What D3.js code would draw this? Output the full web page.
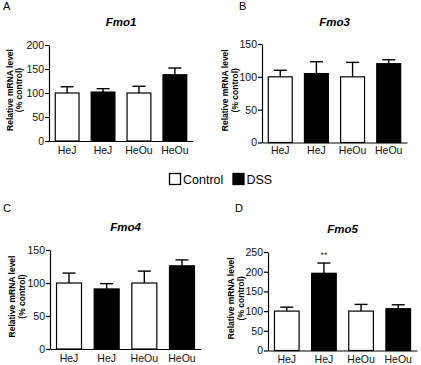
<!DOCTYPE html>
<html>
<head>
<meta charset="utf-8">
<script src="https://cdn.jsdelivr.net/npm/d3@7"></script>
<style>
  body { margin: 0; background: #fff; }
  svg { display: block; font-family: Arial, "Liberation Sans", sans-serif; }
</style>
</head>
<body>
<div id="chart"></div>
<script>
const strains = ["HeJ", "HeJ", "HeOu", "HeOu"];
const groups = ["Control", "DSS", "Control", "DSS"];

const fmo1 = [100, 102, 100, 138];
const fmo1Err = [13, 7, 14, 14];
const fmo3 = [100, 105, 100, 120];
const fmo3Err = [10, 18, 22, 6];
const fmo4 = [100, 91, 100, 126];
const fmo4Err = [15, 8, 18, 9];
const fmo5 = [100, 196, 100, 106];
const fmo5Err = [10, 26, 17, 10];

const fmo1Ticks = [0, 50, 100, 150, 200];
const fmo3Ticks = [0, 50, 100, 150];
const fmo4Ticks = [0, 50, 100, 150];
const fmo5Ticks = [0, 50, 100, 150, 200, 250];

const width = 421, height = 365;

const svg = d3.select("#chart")
    .append("svg")
    .attr("width", width)
    .attr("height", height);

const panels = [
    { letter: "A", title: "Fmo1", values: fmo1, err: fmo1Err, ticks: fmo1Ticks,
      x0: 49, x1: 193, y0: 141, y1: 45, letterX: 3, letterY: 10, titleY: 26, labelY: 154, yl: [-36, -27] },
    { letter: "B", title: "Fmo3", values: fmo3, err: fmo3Err, ticks: fmo3Ticks,
      x0: 262, x1: 407, y0: 142.5, y1: 44, letterX: 239, letterY: 10, titleY: 26, labelY: 154, yl: [-34, -24] },
    { letter: "C", title: "Fmo4", values: fmo4, err: fmo4Err, ticks: fmo4Ticks,
      x0: 50, x1: 201, y0: 349, y1: 250, letterX: 3, letterY: 212, titleY: 231, labelY: 362, yl: [-35, -25] },
    { letter: "D", title: "Fmo5", values: fmo5, err: fmo5Err, ticks: fmo5Ticks, star: 1,
      x0: 268, x1: 417, y0: 350.5, y1: 252, letterX: 235, letterY: 212, titleY: 233, labelY: 363, yl: [-34, -24] }
];

panels.forEach(p => {
    const g = svg.append("g");

    const x = d3.scaleBand()
        .domain(d3.range(p.values.length))
        .range([p.x0, p.x1])
        .paddingInner(0.31)
        .paddingOuter(0.16);

    const y = d3.scaleLinear()
        .domain([0, d3.max(p.ticks)])
        .range([p.y0, p.y1]);

    // panel letter and title
    g.append("text")
        .attr("x", p.letterX)
        .attr("y", p.letterY)
        .attr("font-size", "11px")
        .text(p.letter);

    g.append("text")
        .attr("x", (p.x0 + p.x1) / 2)
        .attr("y", p.titleY)
        .attr("text-anchor", "middle")
        .attr("font-size", "11.5px")
        .attr("font-weight", "bold")
        .attr("font-style", "italic")
        .text(p.title);

    // error bars (upper half only)
    const eb = g.selectAll(".err")
        .data(p.values)
        .enter()
        .append("g")
        .attr("stroke", "#000")
        .attr("stroke-width", 1.4);

    eb.append("line")
        .attr("x1", (d, i) => x(i) + x.bandwidth() / 2)
        .attr("x2", (d, i) => x(i) + x.bandwidth() / 2)
        .attr("y1", d => y(d))
        .attr("y2", (d, i) => y(d + p.err[i]));

    eb.append("line")
        .attr("x1", (d, i) => x(i) + x.bandwidth() / 2 - 6.5)
        .attr("x2", (d, i) => x(i) + x.bandwidth() / 2 + 6.5)
        .attr("y1", (d, i) => y(d + p.err[i]))
        .attr("y2", (d, i) => y(d + p.err[i]));

    // bars
    g.selectAll(".bar")
        .data(p.values)
        .enter()
        .append("rect")
        .attr("x", (d, i) => x(i) + 0.5)
        .attr("y", d => y(d))
        .attr("width", x.bandwidth() - 1)
        .attr("height", d => p.y0 - y(d))
        .attr("fill", (d, i) => groups[i] === "DSS" ? "#000" : "#fff")
        .attr("stroke", "#000")
        .attr("stroke-width", 1.2);

    if (p.star !== undefined) {
        const i = p.star;
        g.append("text")
            .attr("x", x(i) + x.bandwidth() / 2)
            .attr("y", y(p.values[i] + p.err[i]) - 5)
            .attr("text-anchor", "middle")
            .attr("font-size", "9px")
            .attr("fill", "#333")
            .text("**");
    }

    // axes
    const yAxis = g.append("g")
        .attr("transform", `translate(${p.x0},0)`)
        .call(d3.axisLeft(y).tickValues(p.ticks).tickSize(4).tickPadding(1).tickSizeOuter(0));
    yAxis.selectAll("text").attr("font-size", "10.5px").attr("fill", "#111");

    const xAxis = g.append("g")
        .attr("transform", `translate(0,${p.y0})`)
        .call(d3.axisBottom(x).tickSize(0).tickSizeOuter(0).tickFormat(i => strains[i]));
    xAxis.selectAll("text")
        .attr("font-size", "10.5px")
        .attr("fill", "#111")
        .attr("dy", null)
        .attr("y", p.labelY - p.y0);

    svg.selectAll(".domain").attr("stroke", "#000").attr("stroke-width", 1.2);
    svg.selectAll(".tick line").attr("stroke", "#000").attr("stroke-width", 1.2);

    // y label
    const yc = (p.y0 + p.y1) / 2 - 3;
    const yl = g.append("text")
        .attr("transform", `translate(${p.x0 + p.yl[0]},${yc}) rotate(-90)`)
        .attr("text-anchor", "middle")
        .attr("font-size", "8.5px")
        .attr("font-weight", "bold");
    yl.append("tspan").attr("x", 0).attr("y", 0).text("Relative mRNA level");
    yl.append("tspan").attr("x", 0).attr("y", p.yl[1] - p.yl[0]).text("(% control)");
});

// legend
const legendItems = [
    { label: "Control", fill: "#fff", x: 169.5 },
    { label: "DSS", fill: "#000", x: 233 }
];

const legend = svg.selectAll(".legend")
    .data(legendItems)
    .enter()
    .append("g");

legend.append("rect")
    .attr("x", d => d.x)
    .attr("y", 173.5)
    .attr("width", 11)
    .attr("height", 11)
    .attr("fill", d => d.fill)
    .attr("stroke", "#000")
    .attr("stroke-width", 1.3);

legend.append("text")
    .attr("x", d => d.x + 13.5)
    .attr("y", 184)
    .attr("font-size", "12.5px")
    .text(d => d.label);
</script>
</body>
</html>
